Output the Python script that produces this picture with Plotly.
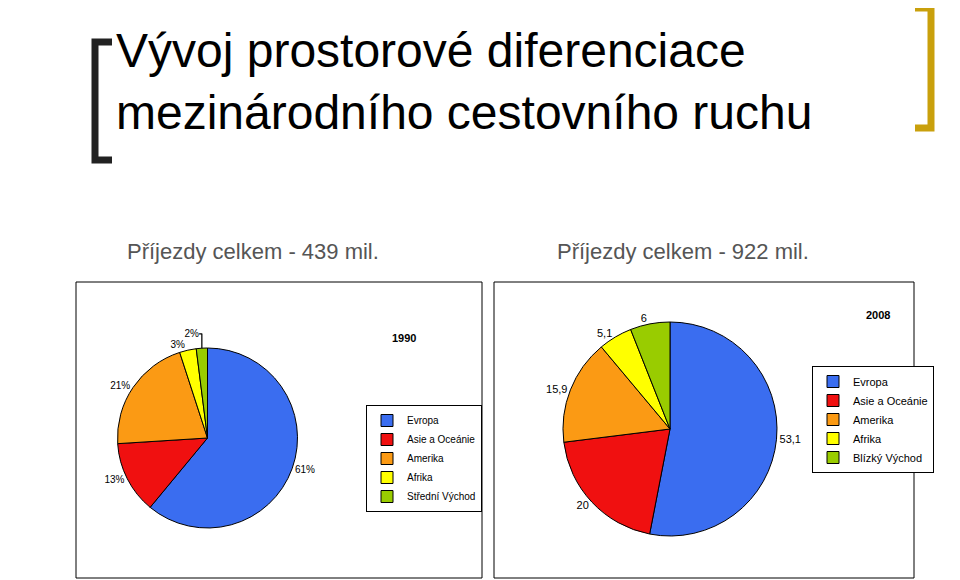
import plotly.graph_objects as go

regions_1990 = ["Evropa", "Asie a Oceánie", "Amerika", "Afrika", "Střední Východ"]
share_1990 = [61, 13, 21, 3, 2]
regions_2008 = ["Evropa", "Asie a Oceánie", "Amerika", "Afrika", "Blízký Východ"]
share_2008 = [53.1, 20, 15.9, 5.1, 6]
labels_2008 = ["53,1", "20", "15,9", "5,1", "6"]
colors = ["#3a6df0", "#f01010", "#fb9a14", "#ffff00", "#99cc00"]

W, H = 960, 580
OFF = 8  # page body margin
def fx(x): return (x - OFF) / W
def fy(y): return 1 - (y - OFF) / H
def px(x0, x1): return [fx(x0), fx(x1)]
def py(y0, y1): return [fy(y1), fy(y0)]

fig = go.Figure()
fig.add_trace(go.Pie(
    labels=regions_1990, values=share_1990, sort=False, direction="clockwise",
    rotation=0, marker=dict(colors=colors, line=dict(color="black", width=1)),
    texttemplate="%{value}%", textposition="outside",
    textfont=dict(size=10, family="Arial", color="black"), legend="legend",
    domain=dict(x=px(110, 305), y=py(348, 528)), hoverinfo="label+value",
))
fig.add_trace(go.Pie(
    # zero-width space keeps these legend entries separate from the 1990 ones
    labels=[r + "\u200b" for r in regions_2008], values=share_2008, sort=False,
    direction="clockwise", rotation=0,
    marker=dict(colors=colors, line=dict(color="black", width=1)),
    text=labels_2008, textinfo="text", textposition="outside",
    textfont=dict(size=11, family="Arial", color="black"), legend="legend2",
    domain=dict(x=px(555, 785), y=py(322, 536)), hoverinfo="label+value",
))

shapes = [
    dict(type="rect", xref="paper", yref="paper", x0=fx(76), x1=fx(482),
         y0=fy(578), y1=fy(282), line=dict(color="black", width=1)),
    dict(type="rect", xref="paper", yref="paper", x0=fx(494), x1=fx(914),
         y0=fy(578), y1=fy(282), line=dict(color="black", width=1)),
    dict(type="path", xref="paper", yref="paper",
         path=f"M {fx(112)},{fy(42)} L {fx(95)},{fy(42)} L {fx(95)},{fy(160)} L {fx(112)},{fy(160)}",
         line=dict(color="#222222", width=7)),
    dict(type="path", xref="paper", yref="paper",
         path=f"M {fx(915)},{fy(8)} L {fx(931)},{fy(8)} L {fx(931)},{fy(128)} L {fx(915)},{fy(128)}",
         line=dict(color="#c9a00c", width=7)),
]

ann = [
    dict(text="Vývoj prostorové diferenciace<br>mezinárodního cestovního ruchu",
         x=fx(114), y=fy(22), xanchor="left", yanchor="top", align="left",
         font=dict(size=48, color="black", family="Liberation Sans")),
    dict(text="Příjezdy celkem - 439 mil.", x=fx(125), y=fy(252), xanchor="left",
         yanchor="middle", font=dict(size=22, color="#555555", family="Liberation Sans")),
    dict(text="Příjezdy celkem - 922 mil.", x=fx(555), y=fy(252), xanchor="left",
         yanchor="middle", font=dict(size=22, color="#555555", family="Liberation Sans")),
    dict(text="<b>1990</b>", x=fx(404), y=fy(338), xanchor="center", yanchor="middle",
         font=dict(size=11, color="black", family="Arial")),
    dict(text="<b>2008</b>", x=fx(878), y=fy(315), xanchor="center", yanchor="middle",
         font=dict(size=11, color="black", family="Arial")),
]
for a in ann:
    a.update(xref="paper", yref="paper", showarrow=False)

fig.update_layout(
    width=W, height=H, margin=dict(l=0, r=0, t=0, b=0),
    paper_bgcolor="white", plot_bgcolor="white", shapes=shapes, annotations=ann,
    legend=dict(x=fx(366), y=fy(405), xanchor="left", yanchor="top",
                bordercolor="black", borderwidth=1, tracegroupgap=0,
                font=dict(size=10, family="Arial", color="black"), itemwidth=30),
    legend2=dict(x=fx(812), y=fy(366), xanchor="left", yanchor="top",
                 bordercolor="black", borderwidth=1,
                 font=dict(size=11, family="Arial", color="black"), itemwidth=30),
)
fig.write_html("out.html")
